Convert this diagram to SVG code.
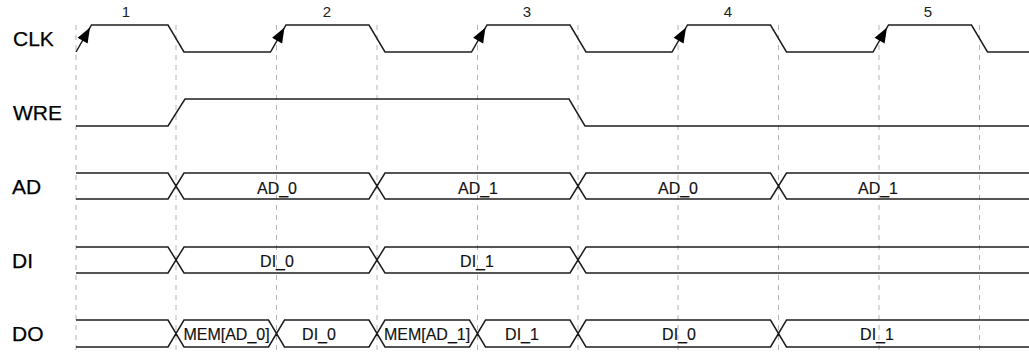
<svg xmlns="http://www.w3.org/2000/svg" width="1029" height="352" viewBox="0 0 1029 352">
<style>
.bg{fill:#ffffff}
.grid line{stroke:#b4b4b4;stroke-width:1;stroke-dasharray:5 5}
.wave{fill:none;stroke:#1e1e1e;stroke-width:1.5;stroke-linejoin:miter}
.name{font-family:"Liberation Sans",Arial,sans-serif;font-size:21px;fill:#000;stroke:#000;stroke-width:0.25}
.val{font-family:"Liberation Sans",Arial,sans-serif;font-size:16px;fill:#111;text-anchor:middle;stroke:#111;stroke-width:0.15}
.num{font-family:"Liberation Sans",Arial,sans-serif;font-size:15px;fill:#222;text-anchor:middle}
.ah{fill:#000}
</style>
<defs>
<path id="ah" class="ah" d="M0,0 L-2.4,16 L-12.4,10.3 Z"/>
</defs>
<rect class="bg" x="0" y="0" width="1029" height="352"/>
<g id="connectors" class="grid">
<line x1="76" y1="25" x2="76" y2="352"/>
<line x1="176" y1="25" x2="176" y2="352"/>
<line x1="276.5" y1="25" x2="276.5" y2="352"/>
<line x1="377" y1="25" x2="377" y2="352"/>
<line x1="477.5" y1="25" x2="477.5" y2="352"/>
<line x1="578" y1="25" x2="578" y2="352"/>
<line x1="678" y1="25" x2="678" y2="352"/>
<line x1="778.5" y1="25" x2="778.5" y2="352"/>
<line x1="879" y1="25" x2="879" y2="352"/>
<line x1="979.5" y1="25" x2="979.5" y2="352"/>
</g>
<g id="cycles">
<text class="num" x="126" y="17">1</text>
<text class="num" x="327" y="17">2</text>
<text class="num" x="527" y="17">3</text>
<text class="num" x="728" y="17">4</text>
<text class="num" x="928" y="17">5</text>
</g>
<g id="clk">
<text class="name" x="13" y="46">CLK</text>
<path class="wave" d="M76,52 L91.5,25 H168 L184,52 H270.5 L286,25 H369 L385,52 H471.5 L487,25 H570 L586,52 H672 L687.5,25 H770.5 L786.5,52 H873 L888.5,25 H971.5 L987.5,52 H1029"/>
<use href="#ah" x="90" y="27.5"/>
<use href="#ah" x="284.5" y="27.5"/>
<use href="#ah" x="485.5" y="27.5"/>
<use href="#ah" x="686" y="27.5"/>
<use href="#ah" x="887" y="27.5"/>
</g>
<g id="wre">
<text class="name" x="13" y="120">WRE</text>
<path class="wave" d="M76,126 H168 L185,99 H569 L585,126 H1029"/>
</g>
<g id="ad">
<text class="name" x="12" y="194">AD</text>
<path class="wave" d="M76,173 H168 L176,186 L184,173 H369 L377,186 L385,173 H570 L578,186 L586,173 H770.5 L778.5,186 L786.5,173 H1029"/>
<path class="wave" d="M76,199 H168 L176,186 L184,199 H369 L377,186 L385,199 H570 L578,186 L586,199 H770.5 L778.5,186 L786.5,199 H1029"/>
<text class="val" x="277" y="194">AD_0</text>
<text class="val" x="478" y="194">AD_1</text>
<text class="val" x="678" y="194">AD_0</text>
<text class="val" x="878" y="194">AD_1</text>
</g>
<g id="di">
<text class="name" x="12" y="268">DI</text>
<path class="wave" d="M76,247 H168 L176,260 L184,247 H369 L377,260 L385,247 H570 L578,260 L586,247 H1029"/>
<path class="wave" d="M76,273 H168 L176,260 L184,273 H369 L377,260 L385,273 H570 L578,260 L586,273 H1029"/>
<text class="val" x="277" y="267">DI_0</text>
<text class="val" x="477" y="267">DI_1</text>
</g>
<g id="do">
<text class="name" x="12" y="341">DO</text>
<path class="wave" d="M76,320 H168 L176,333.5 L184,320 H268.5 L276.5,333.5 L284.5,320 H369 L377,333.5 L385,320 H469.5 L477.5,333.5 L485.5,320 H570 L578,333.5 L586,320 H770.5 L778.5,333.5 L786.5,320 H1029"/>
<path class="wave" d="M76,347 H168 L176,333.5 L184,347 H268.5 L276.5,333.5 L284.5,347 H369 L377,333.5 L385,347 H469.5 L477.5,333.5 L485.5,347 H570 L578,333.5 L586,347 H770.5 L778.5,333.5 L786.5,347 H1029"/>
<text class="val" x="226.5" y="340">MEM[AD_0]</text>
<text class="val" x="319" y="340">DI_0</text>
<text class="val" x="427" y="340">MEM[AD_1]</text>
<text class="val" x="522" y="340">DI_1</text>
<text class="val" x="679" y="340">DI_0</text>
<text class="val" x="877" y="340">DI_1</text>
</g>
</svg>
